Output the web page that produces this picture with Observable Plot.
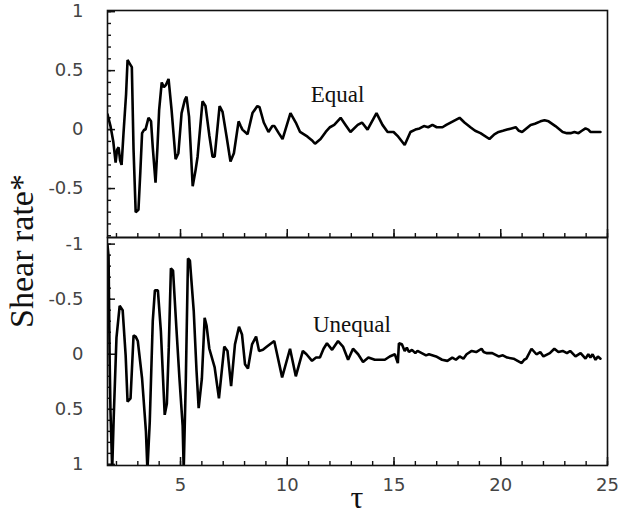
<!DOCTYPE html>
<html><head><meta charset="utf-8">
<script src="https://cdn.jsdelivr.net/npm/d3@7"></script>
<script src="https://cdn.jsdelivr.net/npm/@observablehq/plot@0.6"></script>
<style>
body{margin:0;background:#fff;}
#wrap{position:relative;width:620px;height:518px;overflow:hidden;}
#wrap svg{position:absolute;left:0;overflow:visible;}
.lab{position:absolute;font-family:"Liberation Serif","Times New Roman",serif;color:#111;white-space:nowrap;}
</style></head><body><div id="wrap"></div>
<script>
// Equal (top panel)
const equalX = [1.58,1.72,1.85,1.96,2.03,2.1,2.17,2.24,2.33,2.45,2.52,2.62,2.72,2.8,2.9,3.03,3.12,3.2,3.3,3.36,3.5,3.62,3.7,3.83,3.92,4.0,4.12,4.22,4.32,4.44,4.58,4.77,4.9,5.05,5.2,5.28,5.4,5.57,5.7,5.8,6.03,6.17,6.35,6.5,6.6,6.83,6.97,7.15,7.34,7.5,7.72,7.82,7.9,8.14,8.37,8.6,8.7,8.9,9.12,9.3,9.4,9.6,9.78,10.15,10.4,10.6,10.95,11.15,11.3,11.56,11.8,12.0,12.2,12.5,12.73,12.96,13.3,13.5,13.76,14.18,14.46,14.7,14.98,15.2,15.5,15.77,16.0,16.2,16.4,16.6,16.8,17.0,17.27,17.45,17.65,18.07,18.3,18.58,18.8,19.05,19.47,19.7,19.9,20.1,20.3,20.5,20.7,20.85,21.0,21.2,21.4,21.6,21.86,22.05,22.24,22.56,22.9,23.1,23.27,23.45,23.64,23.8,23.97,24.1,24.2,24.4,24.67];
const equalY = [0.13,0.03,-0.10,-0.28,-0.17,-0.15,-0.26,-0.30,-0.03,0.30,0.59,0.56,0.53,-0.17,-0.70,-0.68,-0.35,-0.03,0.0,0.0,0.10,0.07,-0.15,-0.45,-0.15,0.17,0.40,0.36,0.38,0.43,0.17,-0.25,-0.20,0.14,0.25,0.28,0.11,-0.48,-0.35,-0.23,0.24,0.20,-0.05,-0.23,-0.23,0.20,0.15,-0.05,-0.27,-0.20,0.07,0.03,0.0,-0.04,0.14,0.20,0.19,0.06,-0.02,0.03,0.03,-0.03,-0.08,0.14,0.06,-0.02,-0.06,-0.09,-0.12,-0.08,-0.02,0.02,0.04,0.10,0.04,-0.02,0.04,0.06,0.0,0.14,0.04,-0.02,-0.02,-0.06,-0.13,-0.02,0.0,0.01,0.03,0.02,0.04,0.02,0.02,0.04,0.06,0.10,0.06,0.02,-0.01,-0.03,-0.08,-0.04,-0.02,-0.01,0.0,0.01,0.02,-0.01,-0.02,0.01,0.04,0.05,0.07,0.08,0.07,0.03,-0.02,-0.03,-0.03,-0.02,-0.03,-0.01,0.01,0.0,-0.02,-0.02,-0.02];
// Unequal (bottom panel, axis inverted)
const unequalX = [1.58,1.63,1.68,1.72,1.8,1.87,2.0,2.15,2.29,2.43,2.52,2.66,2.8,2.9,3.0,3.2,3.38,3.45,3.56,3.7,3.8,3.94,4.08,4.26,4.36,4.45,4.55,4.65,4.8,4.95,5.1,5.15,5.25,5.35,5.44,5.62,5.75,5.85,6.0,6.13,6.22,6.35,6.6,6.8,7.05,7.2,7.37,7.55,7.74,7.88,8.02,8.16,8.35,8.54,8.68,8.86,9.05,9.39,9.76,10.13,10.4,10.73,10.9,11.16,11.35,11.53,11.7,11.86,12.1,12.38,12.61,12.85,13.08,13.32,13.55,13.8,14.1,14.57,14.8,15.04,15.18,15.23,15.37,15.5,15.6,15.7,15.84,16.0,16.1,16.3,16.5,16.64,16.97,17.25,17.5,17.73,17.9,18.07,18.25,18.4,18.64,18.85,19.1,19.2,19.33,19.6,19.9,20.1,20.3,20.6,20.98,21.1,21.2,21.44,21.67,21.85,22.0,22.3,22.51,22.7,22.9,23.1,23.25,23.5,23.74,23.97,24.1,24.2,24.3,24.44,24.55,24.67];
const unequalY = [-0.99,-0.89,0.04,0.52,1.05,0.58,-0.15,-0.44,-0.40,0.01,0.43,0.40,-0.17,-0.16,-0.12,0.22,0.70,1.05,0.61,-0.30,-0.58,-0.58,-0.21,0.55,0.45,-0.06,-0.78,-0.76,-0.26,0.22,0.65,1.05,0.22,-0.87,-0.85,-0.39,0.15,0.49,0.22,-0.33,-0.26,-0.05,0.12,0.40,-0.07,-0.03,0.29,-0.09,-0.25,-0.18,0.09,0.13,-0.09,-0.16,-0.03,-0.04,-0.07,-0.12,0.21,-0.05,0.20,-0.03,0.0,0.06,0.03,0.03,-0.05,-0.10,-0.04,-0.12,-0.07,0.05,-0.05,0.0,0.07,0.03,0.05,0.05,0.02,0.0,0.08,-0.10,-0.09,-0.03,-0.06,-0.02,-0.04,-0.01,-0.03,-0.01,0.01,0.0,0.02,0.05,0.06,0.03,0.05,0.02,0.04,0.0,-0.03,-0.02,-0.05,-0.02,-0.01,-0.01,0.02,0.01,0.03,0.04,0.08,0.05,0.04,-0.05,0.0,-0.02,0.02,-0.01,-0.05,-0.02,-0.03,-0.01,-0.03,0.02,-0.01,0.04,0.0,0.03,0.0,0.05,0.02,0.04];

const xTickLabels = [5,10,15,20,25];
const xMinorTicks = d3.range(2,26);
const topYTickLabels = [1,0.5,0,-0.5];
const bottomYTickLabels = [-1,-0.5,0,0.5,1];
const topYMinor = d3.range(-9,11).map(i=>i/10);
const bottomYMinor = d3.range(-10,11).map(i=>i/10);
const panelLabels = ["Equal","Unequal"];

const equalData = equalX.map((x,i)=>({x, y: equalY[i]}));
const unequalData = unequalX.map((x,i)=>({x, y: unequalY[i]}));

const xDomain = [1.58, 25];
const topDomain = [-0.915, 1.01];
const bottomDomain = [-1.06, 1.01];
const common = {
  width: 620, marginLeft: 107, marginRight: 13,
  style: {fontFamily: "DejaVu Sans", fontSize: "18px", color: "#111", background: "transparent", overflow: "visible"}
};
const fmt = d => String(d);
const lineStyle = {stroke: "#000", strokeWidth: 2.6, strokeLinejoin: "miter", clip: true};
const isMajorX = d => d % 5 === 0;
const isMajorY = d => Math.abs(d * 2 - Math.round(d * 2)) < 1e-9;

// inward ticks (negative tickSize points them into the frame)
function inwardTicks(yMinor) {
  return [
    Plot.axisX({ticks: xMinorTicks, tickSize: -4, tickFormat: () => "", anchor: "bottom", stroke: "#111", strokeWidth: 1.4, label: null}),
    Plot.axisX({ticks: xMinorTicks.filter(isMajorX), tickSize: -8, tickFormat: () => "", anchor: "bottom", stroke: "#111", strokeWidth: 1.5, label: null}),
    Plot.axisY({ticks: yMinor, tickSize: -4, tickFormat: () => "", anchor: "left", stroke: "#111", strokeWidth: 1.4, label: null}),
    Plot.axisY({ticks: yMinor.filter(isMajorY), tickSize: -8, tickFormat: () => "", anchor: "left", stroke: "#111", strokeWidth: 1.5, label: null})
  ];
}

const topPlot = Plot.plot({
  ...common, height: 237, marginTop: 10, marginBottom: 0,
  x: {domain: xDomain},
  y: {domain: topDomain},
  marks: [
    ...inwardTicks(topYMinor),
    Plot.axisY({ticks: topYTickLabels, tickSize: 0, tickPadding: 24, tickFormat: fmt, anchor: "left", fill: "#444", label: null}),
    Plot.line(equalData, {x: "x", y: "y", ...lineStyle}),
    Plot.text([panelLabels[0]], {x: 11.1, y: 0.3, text: d => d, textAnchor: "start", fontFamily: "Liberation Serif", fontSize: 23, fill: "#111"}),
    Plot.frame({stroke: "#111", strokeWidth: 1.6})
  ]
});
topPlot.style.top = "0px";

const bottomPlot = Plot.plot({
  ...common, height: 281, marginTop: 0, marginBottom: 53,
  x: {domain: xDomain},
  y: {domain: bottomDomain, reverse: true},
  marks: [
    ...inwardTicks(bottomYMinor),
    Plot.axisX({ticks: xTickLabels, tickSize: 0, tickPadding: 13, tickFormat: fmt, anchor: "bottom", fill: "#444", label: null}),
    Plot.axisY({ticks: bottomYTickLabels, tickSize: 0, tickPadding: 24, tickFormat: fmt, anchor: "left", fill: "#444", label: null}),
    Plot.line(unequalData, {x: "x", y: "y", ...lineStyle}),
    Plot.text([panelLabels[1]], {x: 11.2, y: -0.27, text: d => d, textAnchor: "start", fontFamily: "Liberation Serif", fontSize: 23, fill: "#111"}),
    Plot.frame({stroke: "#111", strokeWidth: 1.6})
  ]
});
bottomPlot.style.top = "237px";

const wrap = document.getElementById("wrap");
wrap.appendChild(topPlot);
wrap.appendChild(bottomPlot);

const ylab = document.createElement("div");
ylab.className = "lab";
ylab.textContent = "Shear rate*";
ylab.style.cssText += "font-size:34px;left:22px;top:251px;transform:translate(-50%,-50%) rotate(-90deg);";
wrap.appendChild(ylab);

const xlab = document.createElement("div");
xlab.className = "lab";
xlab.textContent = "τ";
xlab.style.cssText += "font-size:32px;left:357px;top:497px;transform:translate(-50%,-50%);";
wrap.appendChild(xlab);
</script></body></html>
